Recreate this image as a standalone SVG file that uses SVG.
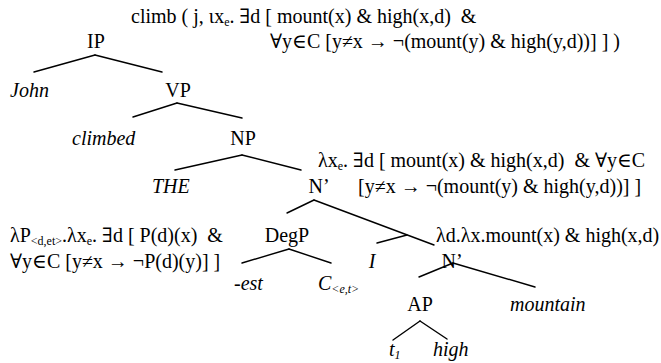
<svg xmlns="http://www.w3.org/2000/svg" width="661" height="363" viewBox="0 0 661 363">
<style>
text{font-size:20px;fill:#000;white-space:pre}
.n{text-anchor:middle}
.i{font-style:italic}
.s{font-size:12px}
#edges line{stroke:#000;stroke-width:1.4;stroke-linecap:round}
</style>
<rect width="661" height="363" fill="#fff"/>
<g id="edges">
<line x1="95" y1="55" x2="34" y2="72"/><line x1="95" y1="55" x2="162" y2="72"/>
<line x1="177" y1="103" x2="133" y2="117"/><line x1="177" y1="103" x2="242" y2="118"/>
<line x1="242" y1="155" x2="175" y2="170"/><line x1="242" y1="155" x2="301" y2="170"/>
<line x1="314" y1="200" x2="287" y2="213"/><line x1="314" y1="200" x2="434" y2="245"/>
<line x1="407" y1="235" x2="377" y2="243"/>
<line x1="289" y1="249" x2="242" y2="263"/><line x1="289" y1="249" x2="331" y2="263"/>
<line x1="453" y1="263" x2="419" y2="277"/><line x1="453" y1="263" x2="535" y2="287"/>
<line x1="420" y1="321" x2="393" y2="340"/><line x1="420" y1="321" x2="447" y2="339"/>
</g>
<g font-family="'Liberation Serif', 'Times New Roman', Times, 'DejaVu Serif', serif">
<g id="ann-top">
<text x="131" y="23">climb ( j, ιx<tspan class="s" dy="3">e</tspan><tspan dy="-3">. ∃d [ mount(x) &amp; high(x,d)  &amp;</tspan></text>
<text x="270" y="48">∀y∈C [y≠x → ¬(mount(y) &amp; high(y,d))] ] )</text>
</g>
<g id="IP"><text class="n" x="96" y="48">IP</text></g>
<g id="John"><text class="i" x="10" y="97">John</text></g>
<g id="VP"><text class="n" x="178" y="97">VP</text></g>
<g id="climbed"><text class="i" x="72" y="145">climbed</text></g>
<g id="NP"><text class="n" x="243" y="145">NP</text></g>
<g id="ann-nbar">
<text x="318" y="167">λx<tspan class="s" dy="3">e</tspan><tspan dy="-3">. ∃d [ mount(x) &amp; high(x,d)  &amp; ∀y∈C</tspan></text>
<text x="358" y="193">[y≠x → ¬(mount(y) &amp; high(y,d))] ]</text>
</g>
<g id="THE"><text class="i" x="152" y="193">THE</text></g>
<g id="Nbar1"><text class="n" x="319" y="193">N’</text></g>
<g id="ann-deg">
<text x="10" y="242">λP<tspan class="s" dy="3">&lt;d,et&gt;</tspan><tspan dy="-3">.λx</tspan><tspan class="s" dy="3">e</tspan><tspan dy="-3">. ∃d [ P(d)(x)  &amp;</tspan></text>
<text x="10" y="268">∀y∈C [y≠x → ¬P(d)(y)] ]</text>
</g>
<g id="DegP"><text class="n" x="287" y="242">DegP</text></g>
<g id="ann-nbar2"><text x="436" y="242">λd.λx.mount(x) &amp; high(x,d)</text></g>
<g id="I"><text class="i n" x="372" y="268">I</text></g>
<g id="Nbar2"><text class="n" x="452" y="268">N’</text></g>
<g id="est"><text class="i" x="234" y="290">-est</text></g>
<g id="C"><text class="i" x="318" y="290">C<tspan class="s" dy="3">&lt;e,t&gt;</tspan></text></g>
<g id="AP"><text class="n" x="420" y="311">AP</text></g>
<g id="mountain"><text class="i" x="510" y="311">mountain</text></g>
<g id="t1"><text class="i" x="389" y="356">t<tspan class="s" dy="3">1</tspan></text></g>
<g id="high"><text class="i" x="433" y="356">high</text></g>
</g>
</svg>
